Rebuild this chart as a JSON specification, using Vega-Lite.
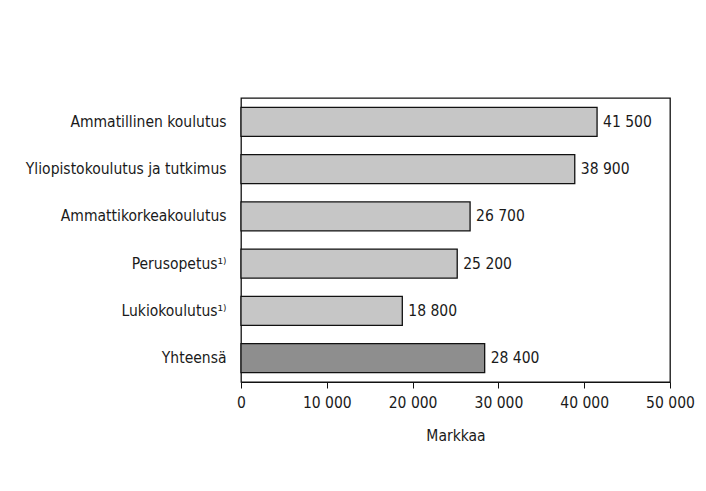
{
  "$schema": "https://vega.github.io/schema/vega-lite/v6.json",
  "autosize": "none",
  "padding": {"left": 241, "top": 98, "right": 36, "bottom": 109},
  "width": 429,
  "height": 284,
  "background": "white",
  "config": {
    "locale": {"number": {"decimal": ",", "thousands": " ", "grouping": [3], "currency": ["", ""]}},
    "font": "Liberation Sans Narrow, DejaVu Sans Condensed, sans-serif",
    "view": {"stroke": "#111", "strokeWidth": 1.3},
    "axis": {"labelFont": "Liberation Sans Narrow, DejaVu Sans Condensed, sans-serif", "titleFont": "Liberation Sans Narrow, DejaVu Sans Condensed, sans-serif", "labelColor": "#1a1a1a", "titleColor": "#1a1a1a"}
  },
  "data": {
    "values": [
      {"kategoria": "Ammatillinen koulutus", "markkaa": 41500, "tyyppi": "osa"},
      {"kategoria": "Yliopistokoulutus ja tutkimus", "markkaa": 38900, "tyyppi": "osa"},
      {"kategoria": "Ammattikorkeakoulutus", "markkaa": 26700, "tyyppi": "osa"},
      {"kategoria": "Perusopetus¹⁾", "markkaa": 25200, "tyyppi": "osa"},
      {"kategoria": "Lukiokoulutus¹⁾", "markkaa": 18800, "tyyppi": "osa"},
      {"kategoria": "Yhteensä", "markkaa": 28400, "tyyppi": "yhteensä"}
    ]
  },
  "encoding": {
    "y": {
      "field": "kategoria",
      "type": "nominal",
      "sort": null,
      "scale": {"paddingInner": 0.386, "paddingOuter": 0.2},
      "axis": {"title": null, "ticks": false, "domain": false, "labelPadding": 15, "labelFontSize": 15.5, "labelLimit": 300}
    },
    "x": {
      "field": "markkaa",
      "type": "quantitative",
      "scale": {"domain": [0, 50000], "nice": false},
      "axis": {
        "title": "Markkaa",
        "titleFontSize": 15.5,
        "titleFontWeight": "normal",
        "titlePadding": 18,
        "values": [0, 10000, 20000, 30000, 40000, 50000],
        "format": ",d",
        "labelFontSize": 15.5,
        "labelPadding": 7,
        "tickSize": 6,
        "tickColor": "#111",
        "domainColor": "#111",
        "grid": false,
        "labelFlush": false
      }
    }
  },
  "layer": [
    {
      "mark": {"type": "bar", "stroke": "#111", "strokeWidth": 1.3},
      "encoding": {
        "color": {
          "field": "tyyppi",
          "type": "nominal",
          "scale": {"domain": ["osa", "yhteensä"], "range": ["#c6c6c6", "#8e8e8e"]},
          "legend": null
        }
      }
    },
    {
      "mark": {"type": "text", "align": "left", "dx": 6, "fontSize": 15.5, "color": "#1a1a1a", "font": "Liberation Sans Narrow, DejaVu Sans Condensed, sans-serif"},
      "encoding": {
        "text": {"field": "markkaa", "type": "quantitative", "format": ",d"}
      }
    }
  ]
}
